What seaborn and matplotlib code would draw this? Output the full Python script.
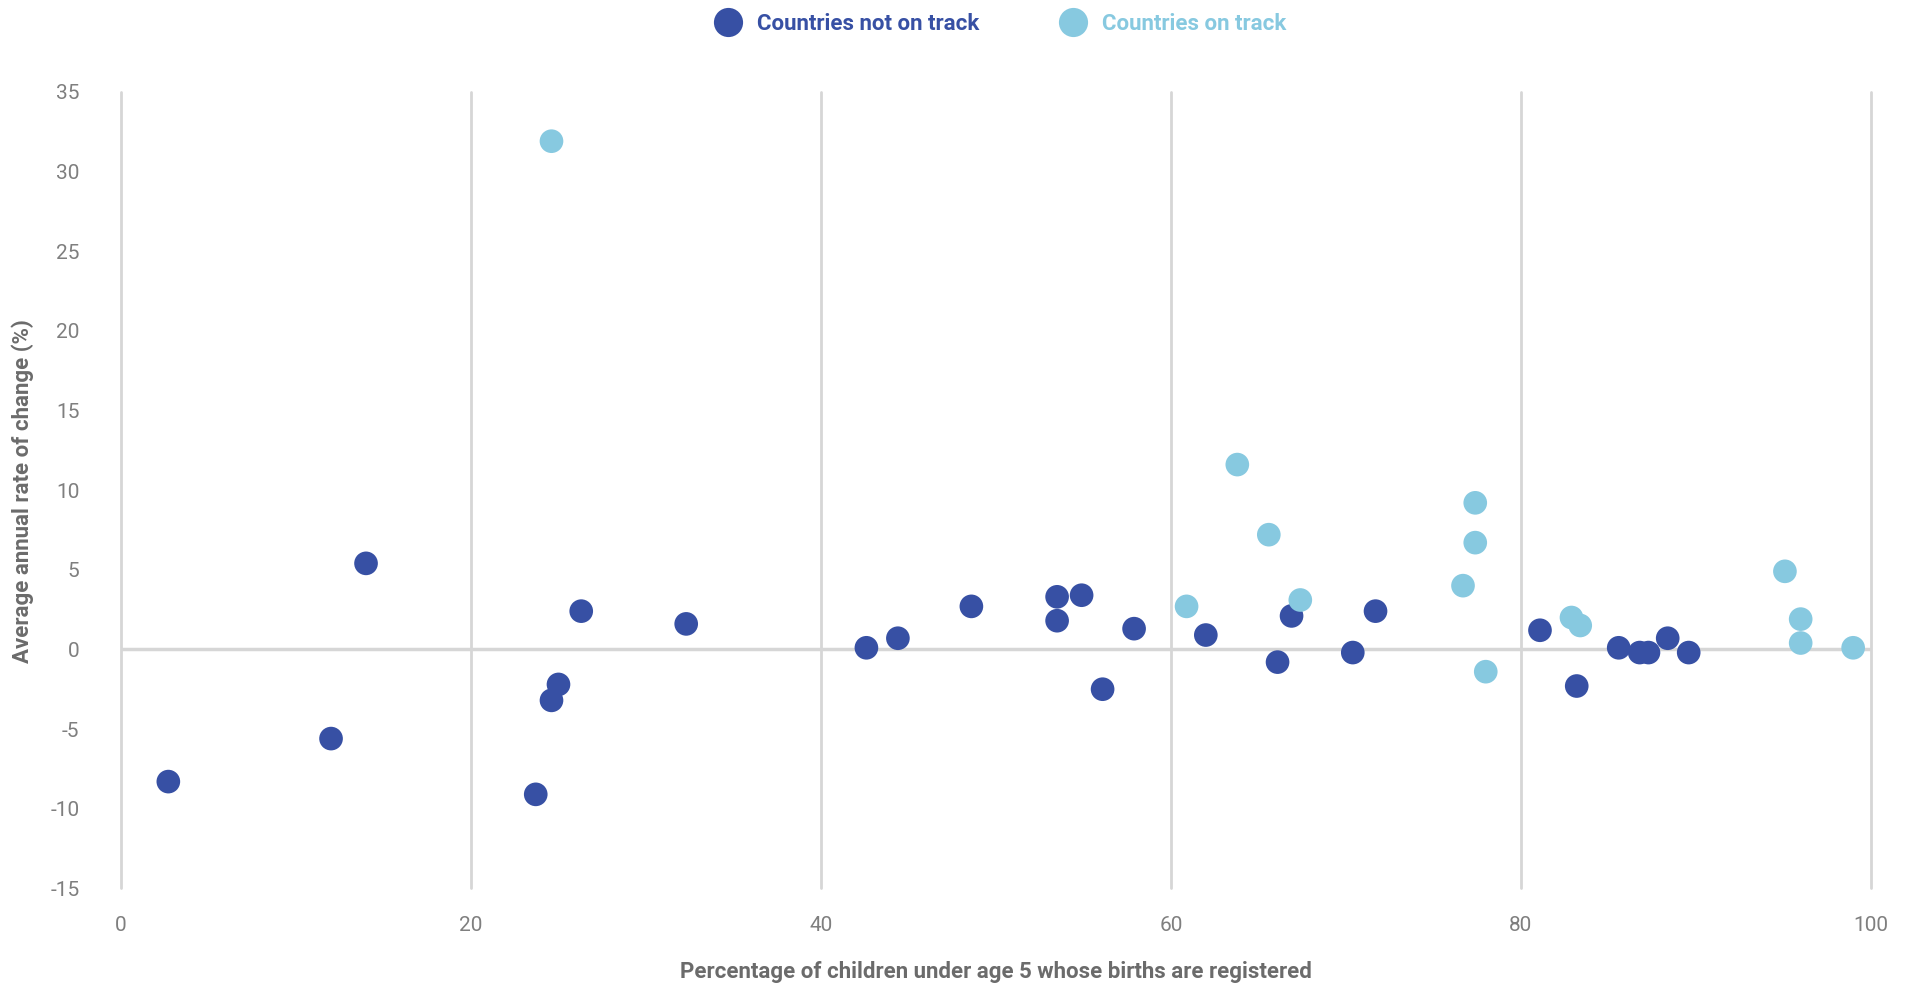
import pandas as pd
import numpy as np
import matplotlib.pyplot as plt
import seaborn as sns

# -----------------------------
# data
# -----------------------------
off_x = [2.7, 12.0, 14.0, 23.7, 24.6, 25.0, 26.3, 32.3, 42.6, 44.4,
         48.6, 53.5, 53.5, 54.9, 56.1, 57.9, 62.0, 66.1, 66.9, 70.4,
         71.7, 81.1, 83.2, 85.6, 86.8, 87.3, 88.4, 89.6]
off_y = [-8.3, -5.6, 5.4, -9.1, -3.2, -2.2, 2.4, 1.6, 0.1, 0.7,
         2.7, 3.3, 1.8, 3.4, -2.5, 1.3, 0.9, -0.8, 2.1, -0.2,
         2.4, 1.2, -2.3, 0.1, -0.2, -0.2, 0.7, -0.2]

on_x = [24.6, 60.9, 63.8, 65.6, 67.4, 76.7, 77.4, 77.4, 78.0, 82.9,
        83.4, 95.1, 96.0, 96.0, 99.0]
on_y = [31.9, 2.7, 11.6, 7.2, 3.1, 4.0, 9.2, 6.7, -1.4, 2.0,
        1.5, 4.9, 1.9, 0.4, 0.1]

groups = ["Countries not on track", "Countries on track"]
colors = ["#3750a4", "#87c9e0"]

df = pd.DataFrame({
    "registered": off_x + on_x,
    "change": off_y + on_y,
    "group": [groups[0]] * len(off_x) + [groups[1]] * len(on_x),
})

# -----------------------------
# plot
# -----------------------------
sns.set_style("white")
plt.rcParams["font.family"] = ["Roboto", "DejaVu Sans"]
plt.rcParams["axes.unicode_minus"] = False

fig = plt.figure(figsize=(19.1, 9.83), dpi=100)
ax = fig.add_axes([0.0634, 0.0963, 0.916, 0.8103])
mid = 0.0634 + 0.916 / 2  # centre of the plot area

for x in range(0, 101, 20):
    ax.axvline(x, color="#d6d6d6", lw=2, zorder=0, clip_on=False)
ax.axhline(0, color="#d6d6d6", lw=2.5, zorder=0)

sns.scatterplot(data=df, x="registered", y="change", hue="group",
                palette=dict(zip(groups, colors)), s=290, edgecolor="none",
                ax=ax, legend=False, zorder=3)

ax.set_xlim(0, 100)
ax.set_ylim(-15, 35)
ax.set_xticks(range(0, 101, 20))
ax.set_yticks(range(-15, 36, 5))
for s in ax.spines.values():
    s.set_visible(False)
ax.tick_params(axis="both", length=0, labelsize=15, labelcolor="#7f7f7f")
ax.tick_params(axis="x", pad=20)
ax.tick_params(axis="y", pad=30)

ax.set_xlabel("")
ax.set_ylabel("")
fig.text(mid, 0.0, "Percentage of children under age 5 whose births are registered",
         ha="center", va="bottom", fontsize=16, fontweight="bold", color="#6b6b6b")
fig.text(0.012, 0.5, "Average annual rate of change (%)", rotation=90,
         ha="center", va="center", fontsize=16, fontweight="bold", color="#6b6b6b")

# legend
handles = [plt.Line2D([], [], marker="o", ls="", markersize=21,
                      markerfacecolor=c, markeredgecolor="none") for c in colors]
leg = fig.legend(handles, groups, loc="center", bbox_to_anchor=(mid, 0.976),
                 ncol=2, frameon=False, fontsize=16, handletextpad=0.3,
                 columnspacing=3.2)
for t, c in zip(leg.get_texts(), colors):
    t.set_color(c)
    t.set_fontweight("bold")

plt.savefig("out.png", dpi=100)
